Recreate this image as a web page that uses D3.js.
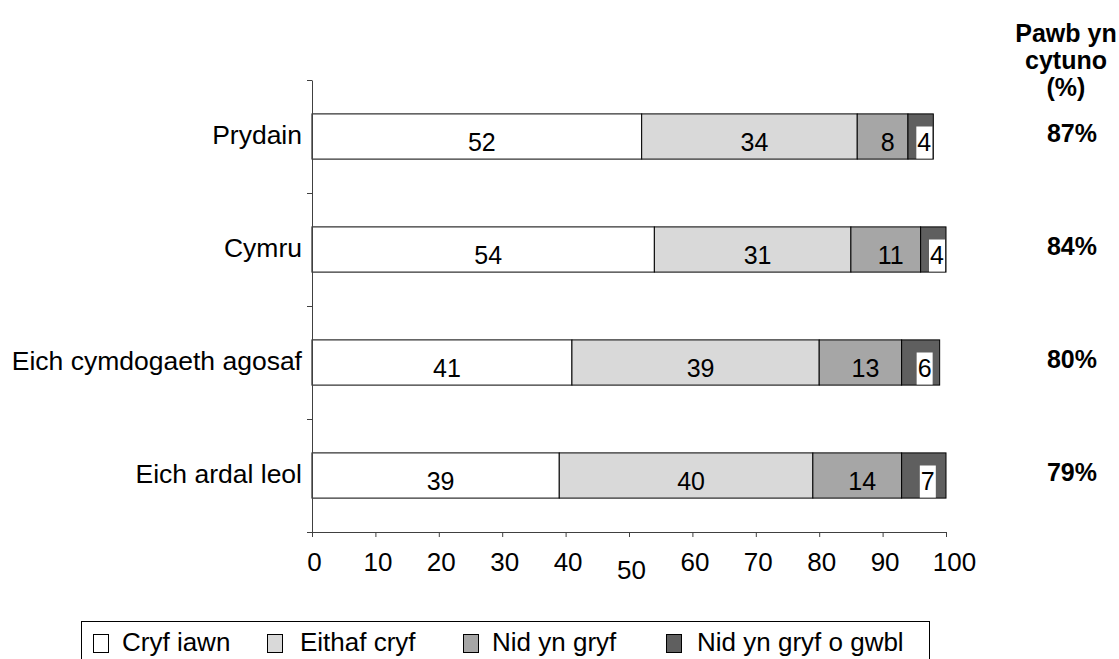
<!DOCTYPE html>
<html>
<head>
<meta charset="utf-8">
<title>Pawb yn cytuno</title>
<script src="https://cdn.jsdelivr.net/npm/d3@7"></script>
<style>
  body { margin: 0; background: #fff; }
  svg text { font-family: "Liberation Sans", Arial, sans-serif; fill: #000; }
</style>
</head>
<body>
<script>
// data
var categories = ["Prydain", "Cymru", "Eich cymdogaeth agosaf", "Eich ardal leol"];
var seriesNames = ["Cryf iawn", "Eithaf cryf", "Nid yn gryf", "Nid yn gryf o gwbl"];
var cryfIawn = [52, 54, 41, 39];
var eithafCryf = [34, 31, 39, 40];
var nidYnGryf = [8, 11, 13, 14];
var nidYnGryfOGwbl = [4, 4, 6, 7];
var pawbYnCytuno = ["87%", "84%", "80%", "79%"];
var headerLines = ["Pawb yn", "cytuno", "(%)"];
var xTicks = [0, 10, 20, 30, 40, 50, 60, 70, 80, 90, 100];

var rows = categories.map(function(c, i) {
  return { cat: c, "Cryf iawn": cryfIawn[i], "Eithaf cryf": eithafCryf[i],
           "Nid yn gryf": nidYnGryf[i], "Nid yn gryf o gwbl": nidYnGryfOGwbl[i] };
});

var W = 1119, H = 659;
var svg = d3.select("body").append("svg").attr("width", W).attr("height", H);

var x = d3.scaleLinear().domain([0, 100]).range([312, 946]);
var y = d3.scaleBand().domain(categories).range([80, 532])
  .paddingInner(0.6).paddingOuter(0.3);
var color = d3.scaleOrdinal().domain(seriesNames)
  .range(["#ffffff", "#d9d9d9", "#a6a6a6", "#5f5f5f"]);

var stacked = d3.stack().keys(seriesNames)(rows);

// bars
var layer = svg.selectAll(".layer").data(stacked).enter().append("g")
  .attr("class", "layer")
  .attr("fill", function(d) { return color(d.key); });

layer.selectAll("rect").data(function(d) { return d; }).enter().append("rect")
  .attr("x", function(d) { return x(d[0]); })
  .attr("y", function(d) { return y(d.data.cat); })
  .attr("width", function(d) { return x(d[1]) - x(d[0]); })
  .attr("height", y.bandwidth())
  .attr("stroke", "#000")
  .attr("stroke-width", 1);

// segment labels
stacked.forEach(function(s, si) {
  var last = si === stacked.length - 1;
  s.forEach(function(d) {
    var v = d[1] - d[0];
    var cy = y(d.data.cat) + y.bandwidth() / 2;
    var cx = (x(d[0]) + x(d[1])) / 2 + 5;
    if (last) {
      cx = Math.min((x(d[0]) + x(d[1])) / 2 + 4, x(d[1]) - 9);
      svg.append("rect")
        .attr("x", cx - 8).attr("y", cy - 10)
        .attr("width", 16).attr("height", y(d.data.cat) + y.bandwidth() - (cy - 10) - 0.5)
        .attr("fill", "#fff");
    }
    svg.append("text")
      .attr("x", cx).attr("y", cy + 14)
      .attr("text-anchor", "middle")
      .style("font-size", "25px")
      .text(v);
  });
});

// y axis (band boundaries as ticks)
var yb = d3.scaleLinear().domain([0, categories.length]).range([80, 532]);
svg.append("g")
  .attr("transform", "translate(312,0)")
  .call(d3.axisLeft(yb).tickValues(d3.range(categories.length + 1))
    .tickFormat("").tickSize(5).tickSizeOuter(0))
  .call(function(g) { g.selectAll("path,line").attr("stroke", "#404040"); });

// x axis
var xa = svg.append("g")
  .attr("transform", "translate(0,532)")
  .call(d3.axisBottom(x).tickValues(xTicks).tickSize(5).tickSizeOuter(0).tickPadding(16));
xa.selectAll("path,line").attr("stroke", "#404040");
xa.selectAll("text")
  .style("font-size", "26px")
  .style("font-family", "'Liberation Sans', Arial, sans-serif")
  .attr("fill", "#000")
  .attr("dx", function(d) { return d === 100 ? 8 : 2; })
  .attr("transform", function(d) { return d === 50 ? "translate(0,8)" : null; });

// category labels
svg.selectAll(".cat").data(categories).enter().append("text")
  .attr("class", "cat")
  .attr("x", 302)
  .attr("y", function(d) { return y(d) + y.bandwidth() / 2 + 7.5; })
  .attr("text-anchor", "end")
  .style("font-size", "26.5px")
  .text(function(d) { return d; });

// right column
svg.selectAll(".hdr").data(headerLines).enter().append("text")
  .attr("x", 1066)
  .attr("y", function(d, i) { return 42 + i * 27; })
  .attr("text-anchor", "middle")
  .style("font-size", "25px").style("font-weight", "bold")
  .text(function(d) { return d; });

svg.selectAll(".pct").data(pawbYnCytuno).enter().append("text")
  .attr("x", 1072)
  .attr("y", function(d, i) { return y(categories[i]) + y.bandwidth() / 2 + 5.5; })
  .attr("text-anchor", "middle")
  .style("font-size", "25px").style("font-weight", "bold")
  .text(function(d) { return d; });

// legend
svg.append("rect")
  .attr("x", 81.5).attr("y", 621.5).attr("width", 848).attr("height", 60)
  .attr("fill", "none").attr("stroke", "#000");

var legX = [93, 267, 463, 666];
var legDx = [29, 33, 29, 31];
var leg = svg.selectAll(".leg").data(seriesNames).enter().append("g")
  .attr("transform", function(d, i) { return "translate(" + legX[i] + ",0)"; });
leg.append("rect")
  .attr("x", 0.5).attr("y", 634.5).attr("width", 15).attr("height", 18)
  .attr("fill", function(d) { return color(d); })
  .attr("stroke", "#000");
leg.append("text")
  .attr("x", function(d, i) { return legDx[i]; }).attr("y", 651)
  .style("font-size", "26px")
  .text(function(d) { return d; });
</script>
</body>
</html>
